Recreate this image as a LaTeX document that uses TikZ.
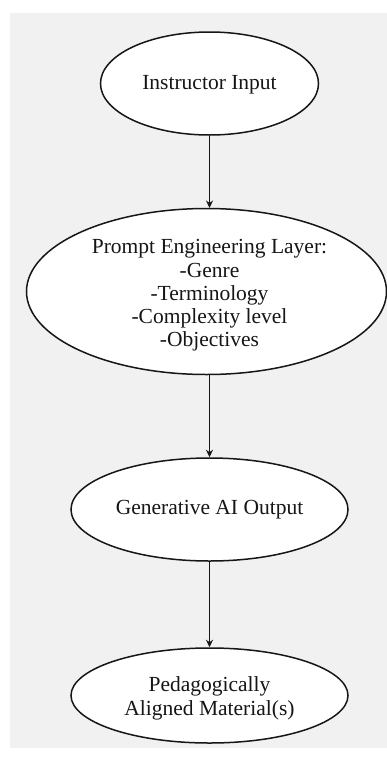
\documentclass[tikz,border=0pt]{standalone}
\usepackage{fontspec}
\setmainfont{Liberation Serif}
\usetikzlibrary{shapes.geometric,arrows.meta}
\definecolor{bggray}{HTML}{F1F1F1}
\definecolor{inkc}{HTML}{161616}
\tikzset{
  ell/.style={ellipse, draw=inkc, fill=white, line width=1.5pt, inner sep=0pt},
  txt/.style={align=center, inner sep=0pt, text=inkc, font=\fontsize{21.5}{23.3}\selectfont},
  conn/.style={draw=inkc, line width=1.7pt, -{Stealth[length=7.5pt,width=7pt]}}
}
\begin{document}
\begin{tikzpicture}[x=1pt,y=-1pt]
\useasboundingbox (0,0) rectangle (387,758);
\fill[white] (0,0) rectangle (387,758);
\fill[bggray] (10,13) rectangle (387,748);
\node[ell, minimum width=218, minimum height=103] (a) at (209.5,83.5) {};
\node[txt] (at) at ([yshift=-1pt]a.center) {Instructor Input};
\node[ell, minimum width=360, minimum height=166] (b) at (206.5,291.5) {};
\node[txt] (bt) at ([yshift=-4pt]209.5,291.5) {Prompt Engineering Layer:\\-Genre\\-Terminology\\-Complexity level\\-Objectives};
\node[ell, minimum width=277, minimum height=103] (c) at (209.5,509.5) {};
\node[txt] (ct) at (c.center) {Generative AI Output};
\node[ell, minimum width=277, minimum height=95] (d) at (209.5,695.5) {};
\node[txt] (dt) at ([yshift=-3pt]d.center) {Pedagogically\\Aligned Material(s)};
\draw[conn] (a.south) -- (209.5,208);
\draw[conn] (209.5,375) -- (c.north);
\draw[conn] (c.south) -- (d.north);
\end{tikzpicture}
\end{document}
